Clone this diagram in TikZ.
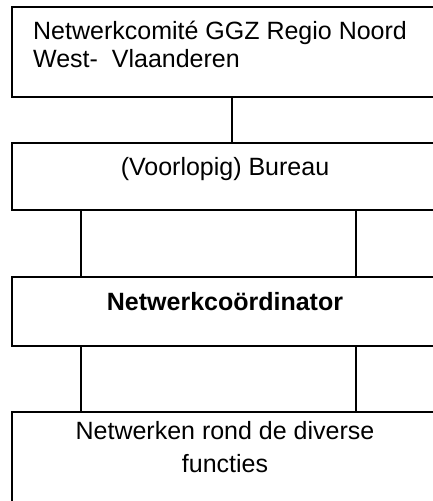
\documentclass[tikz,border=0pt]{standalone}
\usepackage{fontspec}
\setmainfont{Liberation Sans}
\begin{document}
\begin{tikzpicture}[x=1pt,y=1pt,
  box/.style={draw=black, line width=1.6pt, rectangle, minimum width=426pt, inner sep=0pt},
  conn/.style={draw=black, line width=1.6pt},
  txt/.style={font=\fontsize{25}{28}\selectfont, inner sep=0pt}]
\useasboundingbox (0,0) rectangle (432,-501);
\node[box, minimum height=90pt] (b1) at (225,-52) {};
\node[box, minimum height=67pt] (b2) at (225,-176.5) {};
\node[box, minimum height=69pt] (b3) at (225,-311.5) {};
\node[box, minimum height=108pt] (b4) at (225,-466) {};
\node[txt, anchor=base west, align=left] (t1) at (33,-67) {Netwerkcomité GGZ Regio Noord\\West-\ \ Vlaanderen};
\node[txt, anchor=base] (t2) at (225,-175) {(Voorlopig) Bureau};
\node[txt, anchor=base, font=\fontsize{25}{28}\selectfont\bfseries] (t3) at (225,-310) {Netwerkcoördinator};
\node[txt, anchor=base, align=center, font=\fontsize{25}{33}\selectfont] (t4) at (225,-472) {Netwerken rond de diverse\\functies};
\draw[conn] ([xshift=7pt]b1.south) -- ([xshift=7pt]b2.north);
\draw[conn] ([xshift=-144pt]b2.south) -- ([xshift=-144pt]b3.north);
\draw[conn] ([xshift=131pt]b2.south) -- ([xshift=131pt]b3.north);
\draw[conn] ([xshift=-144pt]b3.south) -- ([xshift=-144pt]b4.north);
\draw[conn] ([xshift=131pt]b3.south) -- ([xshift=131pt]b4.north);
\end{tikzpicture}
\end{document}
